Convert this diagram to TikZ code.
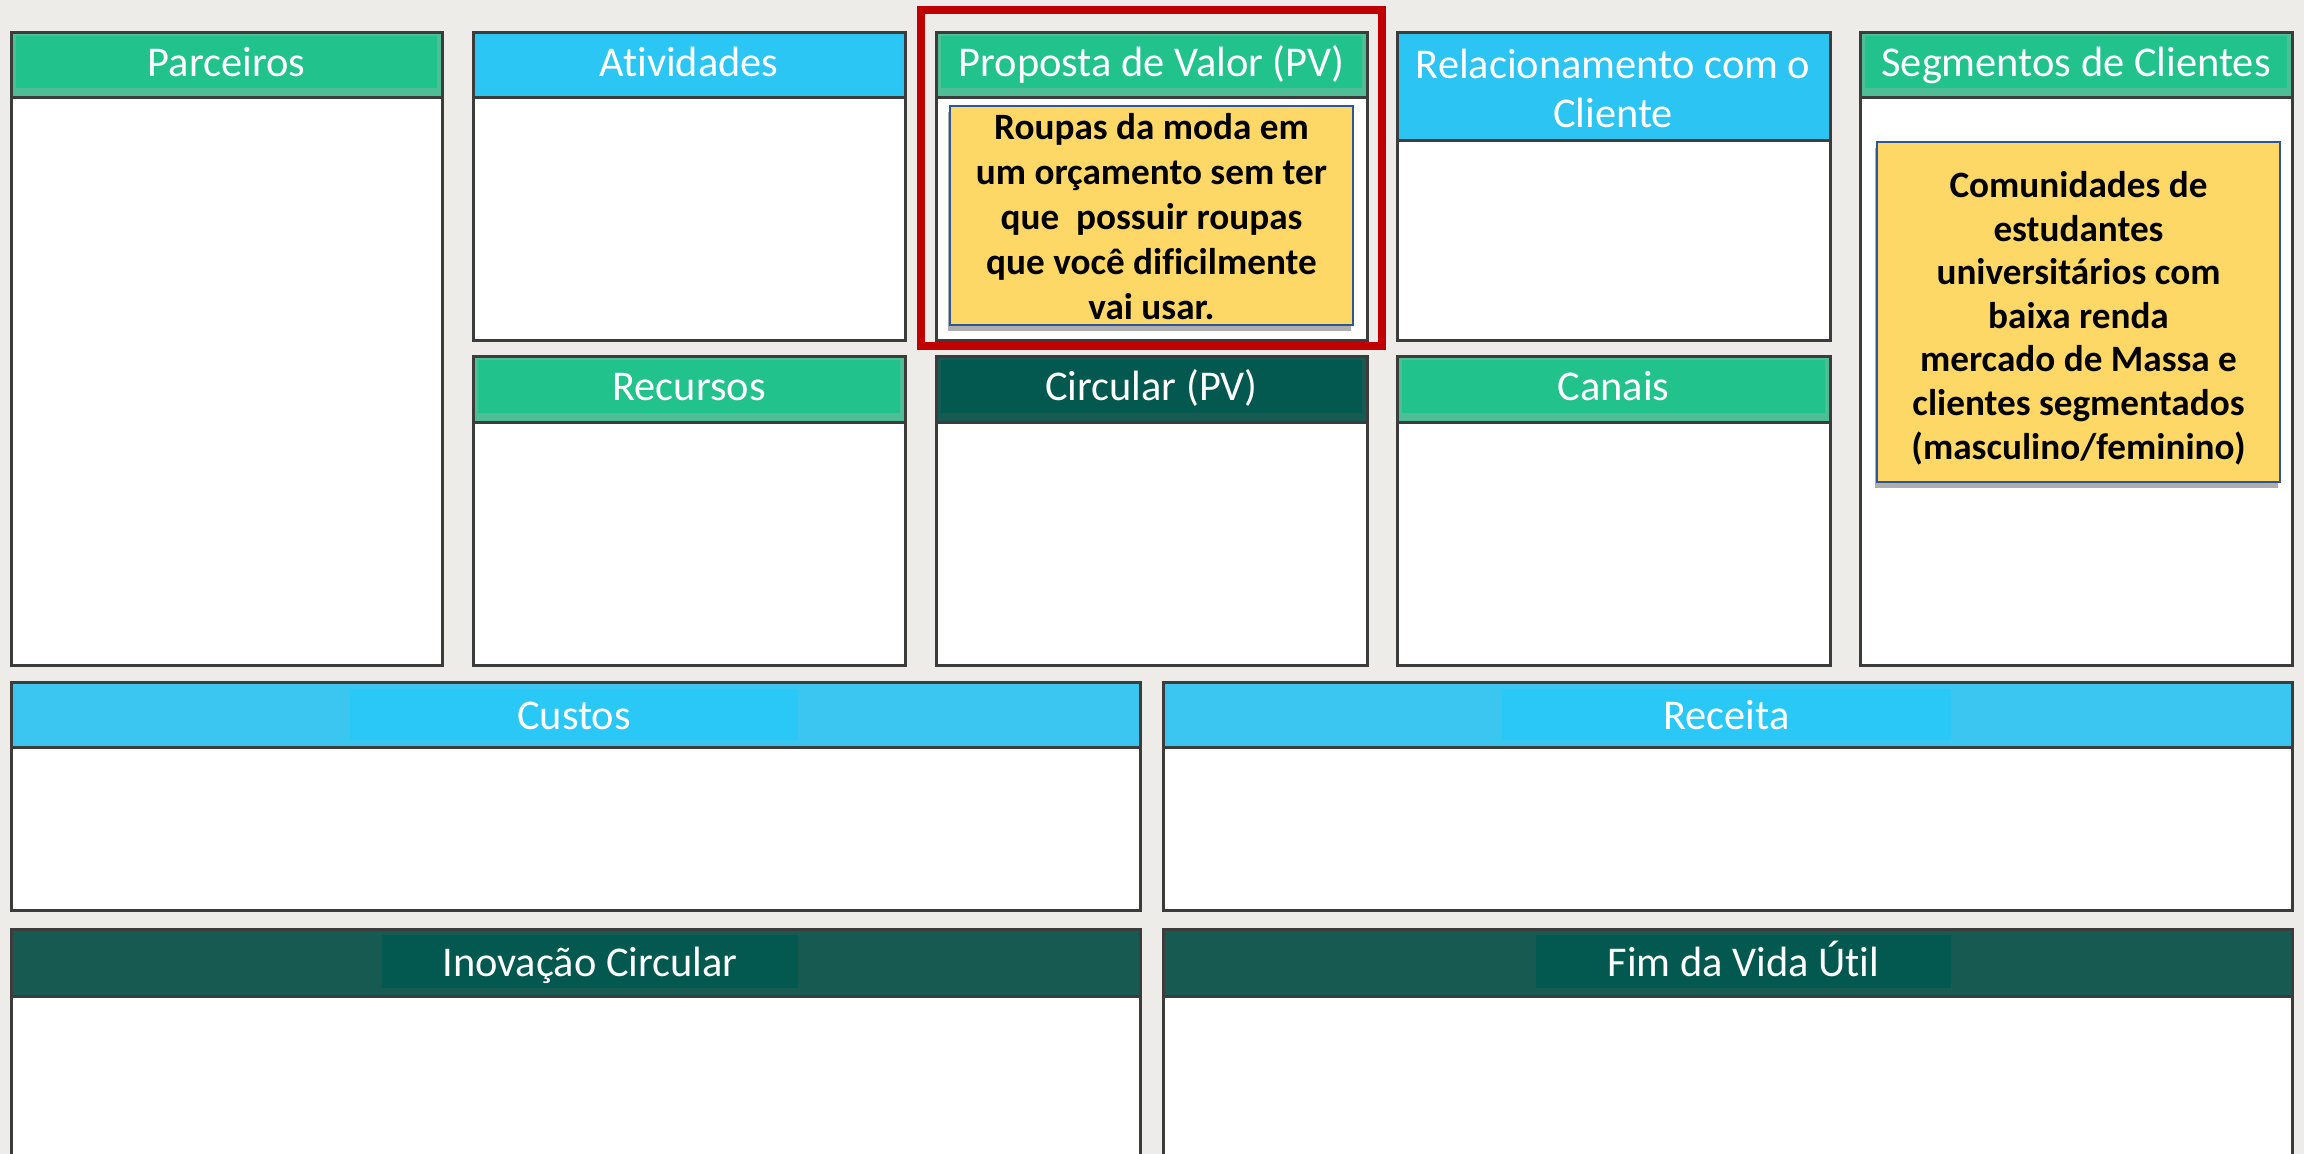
\documentclass[tikz,border=0pt]{standalone}
\usepackage{fontspec}
\setmainfont{Carlito}[Ligatures=NoCommon]
\usetikzlibrary{shadows}
\definecolor{bg}{HTML}{EDECE8}
\definecolor{frameC}{HTML}{3C3C3C}
\definecolor{grOut}{HTML}{4DBE96}
\definecolor{grIn}{HTML}{22C28D}
\definecolor{blOut}{HTML}{2CC4F2}
\definecolor{blIn}{HTML}{2BC6F4}
\definecolor{cuOut}{HTML}{3AC6F0}
\definecolor{cuIn}{HTML}{29C8F7}
\definecolor{dkOut}{HTML}{175A51}
\definecolor{dkIn}{HTML}{03584F}
\definecolor{sticky}{HTML}{FDD866}
\definecolor{stickyB}{HTML}{2F5597}
\definecolor{redC}{HTML}{C00000}
\tikzset{
  frame/.style={draw=frameC, line width=1.5pt},
  hdrtext/.style={text=white, font=\fontsize{21.2}{24.5}\selectfont, align=center, inner sep=0pt, anchor=base},
  notetext/.style={text=black, font=\bfseries\fontsize{18.6}{22.5}\selectfont, align=center, inner sep=0pt},
  notebox/.style={fill=sticky, draw=stickyB, line width=1pt,
    drop shadow={shadow xshift=-1pt, shadow yshift=-3pt, opacity=0.45, fill=black!70}},
}
% #1 name, #2 x1, #3 y1, #4 x2, #5 y2, #6 header bottom, #7 outer, #8 inner, #9 text
\newcommand{\cvblock}[9]{%
  \fill[white] (#2,#3) rectangle (#4,#5);
  \fill[#7] (#2,#3) rectangle (#4,#6);
  \fill[#8] ({#2+5},{#3+3}) rectangle ({#4-5},{#6-10});
  \draw[frame] (#2,#6) -- (#4,#6);
  \draw[frame] (#2,#3) rectangle (#4,#5);
  \node[hdrtext] (#1) at ({(#2+#4)/2},{#3+44}) {#9};
}
% wide blocks: same arguments; inner highlight x range from \ixa, \ixb
\newcommand{\wideblock}[9]{%
  \fill[white] (#2,#3) rectangle (#4,#5);
  \fill[#7] (#2,#3) rectangle (#4,#6);
  \fill[#8] (\ixa,{#3+6}) rectangle (\ixb,{#6-8});
  \draw[frame] (#2,#6) -- (#4,#6);
  \draw[frame] (#2,#3) rectangle (#4,#5);
  \node[hdrtext] (#1) at ({(\ixa+\ixb)/2},{#3+47}) {#9};
}
\begin{document}
\begin{tikzpicture}[x=0.5pt,y=-0.5pt]
\useasboundingbox[fill=bg] (0,0) rectangle (2304,1154);
\clip (0,0) rectangle (2304,1154);

% top row
\cvblock{parceiros}{11}{33}{442}{666}{98}{grOut}{grIn}{Parceiros}
\cvblock{atividades}{473}{33}{905}{341}{98}{blOut}{blIn}{Atividades}
\cvblock{proposta}{936}{33}{1367}{341}{98}{grOut}{grIn}{Proposta de Valor (PV)}
\fill[white] (1397,33) rectangle (1830,341);
\fill[blOut] (1397,33) rectangle (1830,141);
\draw[frame] (1397,141) -- (1830,141);
\draw[frame] (1397,33) rectangle (1830,341);
\node[hdrtext] (relac) at (1613,128) {Relacionamento com o\\Cliente};
\cvblock{segmentos}{1860}{33}{2292}{666}{98}{grOut}{grIn}{Segmentos de Clientes}

% second row
\cvblock{recursos}{473}{357}{905}{666}{423}{grOut}{grIn}{Recursos}
\cvblock{circular}{936}{357}{1367}{666}{423}{dkOut}{dkIn}{Circular (PV)}
\cvblock{canais}{1397}{357}{1830}{666}{423}{grOut}{grIn}{Canais}

% wide rows
\def\ixa{350}\def\ixb{798}
\wideblock{custos}{11}{683}{1140}{910}{748}{cuOut}{cuIn}{Custos}
\def\ixa{1502}\def\ixb{1951}
\wideblock{receita}{1163}{683}{2292}{910}{748}{cuOut}{cuIn}{Receita}
\def\ixa{382}\def\ixb{798}
\wideblock{inovacao}{11}{929}{1140}{1175}{996}{dkOut}{dkIn}{Inovação Circular}
\def\ixa{1536}\def\ixb{1951}
\wideblock{fim}{1163}{929}{2292}{1175}{996}{dkOut}{dkIn}{Fim da Vida Útil}

% sticky notes
\draw[notebox] (950,106) rectangle (1353,325);
\node[notetext] (pvnote) at (1151.5,217) {Roupas da moda em\\um orçamento sem ter\\que\ \ possuir roupas\\que você dificilmente\\vai usar.};
\draw[notebox] (1877,142) rectangle (2280,482);
\node[notetext, font=\bfseries\fontsize{18.6}{21.8}\selectfont] (segnote) at (2078.5,318) {Comunidades de\\estudantes\\universitários com\\baixa renda\\mercado de Massa e\\clientes segmentados\\(masculino/feminino)};

% red highlight
\draw[redC, line width=4pt] (921,10) rectangle (1382,346);
\end{tikzpicture}
\end{document}
